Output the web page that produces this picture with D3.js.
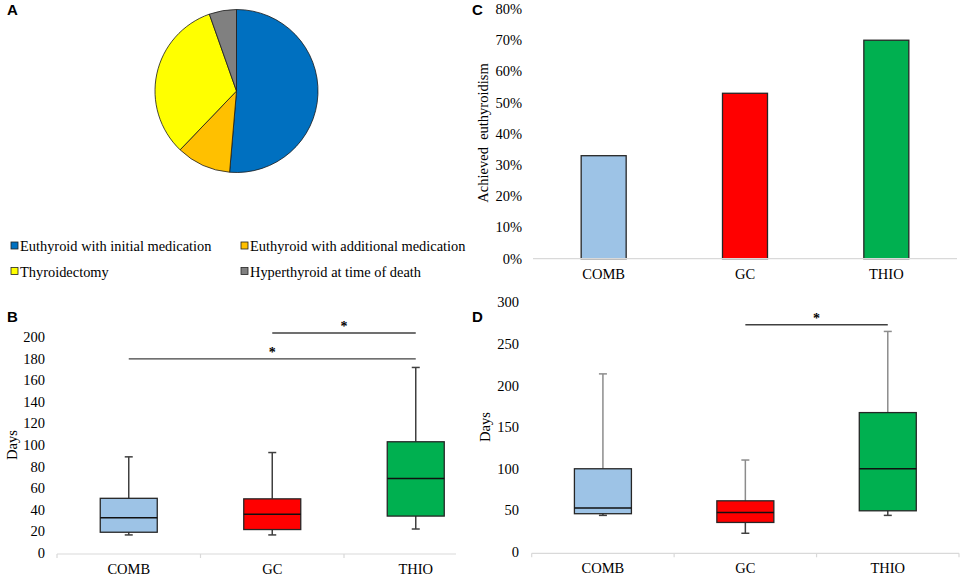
<!DOCTYPE html>
<html>
<head>
<meta charset="utf-8">
<script src="https://cdn.jsdelivr.net/npm/d3@7"></script>
<style>
  body { margin: 0; background: #fff; }
  svg { display: block; }
  text { font-family: "Liberation Serif", "Times New Roman", serif; fill: #000; }
  .panel { font-family: "Liberation Sans", Arial, sans-serif; font-weight: bold; font-size: 15px; }
</style>
</head>
<body>
<svg id="chart" width="964" height="578"></svg>
<script>
// panel A: outcome counts
const outcomeLabels = [
  "Euthyroid with initial medication",
  "Euthyroid with additional medication",
  "Thyroidectomy",
  "Hyperthyroid at time of death",
];
const outcomeCounts = [19, 4, 12, 2];
const outcomeColors = ["#0070C0", "#FFC000", "#FFFF00", "#808080"];

// shared groups
const groups = ["COMB", "GC", "THIO"];
const groupColors = ["#9DC3E6", "#FF0000", "#00B050"];

// panel C: share that achieved euthyroidism
const euthyroidShare = [0.33, 0.53, 0.70];
const shareTicks = [0, 0.1, 0.2, 0.3, 0.4, 0.5, 0.6, 0.7, 0.8];

// panel B: days, [min, q1, median, q3, max]
const daysB = [
  [16.5, 19, 32.5, 50.5, 89],
  [16.5, 21.5, 35.7, 50, 93],
  [22, 34, 69, 103, 172],
];
const ticksB = [0, 20, 40, 60, 80, 100, 120, 140, 160, 180, 200];
const sigB = [
  { from: "GC", to: "THIO", at: 204 },
  { from: "COMB", to: "THIO", at: 180 },
];

// panel D: days, [min, q1, median, q3, max]
const daysD = [
  [44, 46, 53, 100, 214],
  [22.5, 35.5, 47.5, 61.5, 110.5],
  [44, 49.5, 100, 167.5, 265],
];
const ticksD = [0, 50, 100, 150, 200, 250, 300];
const sigD = [{ from: "GC", to: "THIO", at: 273 }];

const svg = d3.select("#chart");

const panelLabel = (x, y, t) =>
  svg.append("text").attr("class", "panel").attr("x", x).attr("y", y).text(t);

// ---------- A: pie ----------
panelLabel(7, 15, "A");
const pie = d3.pie().sort(null)(outcomeCounts);
const arc = d3.arc().innerRadius(0).outerRadius(81.5);
svg.append("g")
  .attr("transform", "translate(236.5,91)")
  .selectAll("path")
  .data(pie)
  .join("path")
  .attr("d", arc)
  .attr("fill", (d, i) => outcomeColors[i])
  .attr("stroke", "#1a1a1a")
  .attr("stroke-width", 0.8);

const legend = svg.append("g")
  .selectAll("g")
  .data(outcomeLabels)
  .join("g")
  .attr("transform", (d, i) => `translate(${i % 2 ? 241 : 11},${i < 2 ? 246 : 271.5})`);
legend.append("rect")
  .attr("x", 0).attr("y", -4)
  .attr("width", 7).attr("height", 7)
  .attr("fill", (d, i) => outcomeColors[i])
  .attr("stroke", "#222").attr("stroke-width", 0.8);
legend.append("text")
  .attr("x", 9).attr("y", 5)
  .attr("font-size", 14.4)
  .text((d) => d);

// ---------- axis helpers ----------
// the base line can stop before the last band ends (panel B is cut short)
const drawBase = (x, y0, withTicks, end) => {
  const g = svg.append("g");
  const a = x.range()[0];
  const b = end ?? x.range()[1];
  g.append("line")
    .attr("x1", a).attr("x2", b).attr("y1", y0).attr("y2", y0)
    .attr("stroke", "#d9d9d9").attr("stroke-width", 1.2);
  if (withTicks) {
    const edges = x.domain().map((d) => x(d)).concat([x.range()[1]]).filter((e) => e <= b + 0.5);
    g.selectAll("line.tk").data(edges).join("line")
      .attr("class", "tk")
      .attr("x1", (d) => d).attr("x2", (d) => d)
      .attr("y1", y0).attr("y2", y0 + 4)
      .attr("stroke", "#d9d9d9").attr("stroke-width", 1.2);
  }
  g.selectAll("text").data(x.domain()).join("text")
    .attr("x", (d) => x(d) + x.bandwidth() / 2)
    .attr("y", y0 + 20)
    .attr("text-anchor", "middle")
    .attr("font-size", 14.5)
    .text((d) => d);
};

const drawYLabels = (y, ticks, xRight, fmt) => {
  svg.append("g").selectAll("text").data(ticks).join("text")
    .attr("x", xRight)
    .attr("y", (d) => y(d) + 5)
    .attr("text-anchor", "end")
    .attr("font-size", 14.5)
    .text(fmt);
};

const yTitle = (x, y, t) =>
  svg.append("text")
    .attr("transform", `translate(${x},${y}) rotate(-90)`)
    .attr("text-anchor", "middle")
    .attr("font-size", 14.5)
    .attr("xml:space", "preserve")
    .text(t);

const drawBoxes = (x, y, data, whiskerColor, w) => {
  const g = svg.append("g").selectAll("g").data(data).join("g")
    .attr("transform", (d, i) => `translate(${x(groups[i]) + x.bandwidth() / 2},0)`);
  g.append("line")
    .attr("y1", (d) => y(d[3])).attr("y2", (d) => y(d[4]))
    .attr("stroke", whiskerColor[0]).attr("stroke-width", 1.5);
  g.append("line")
    .attr("y1", (d) => y(d[0])).attr("y2", (d) => y(d[1]))
    .attr("stroke", whiskerColor[1]).attr("stroke-width", 1.5);
  g.append("line")
    .attr("x1", -4).attr("x2", 4)
    .attr("y1", (d) => y(d[4])).attr("y2", (d) => y(d[4]))
    .attr("stroke", whiskerColor[0]).attr("stroke-width", 1.5);
  g.append("line")
    .attr("x1", -4).attr("x2", 4)
    .attr("y1", (d) => y(d[0])).attr("y2", (d) => y(d[0]))
    .attr("stroke", whiskerColor[1]).attr("stroke-width", 1.5);
  g.append("rect")
    .attr("x", -w / 2).attr("width", w)
    .attr("y", (d) => y(d[3]))
    .attr("height", (d) => y(d[1]) - y(d[3]))
    .attr("fill", (d, i) => groupColors[i])
    .attr("stroke", "#262626").attr("stroke-width", 1.3);
  g.append("line")
    .attr("x1", -w / 2).attr("x2", w / 2)
    .attr("y1", (d) => y(d[2])).attr("y2", (d) => y(d[2]))
    .attr("stroke", "#111").attr("stroke-width", 1.5);
};

const drawSig = (x, y, sigs) => {
  const mid = (d) => x(d) + x.bandwidth() / 2;
  const g = svg.append("g").selectAll("g").data(sigs).join("g");
  g.append("line")
    .attr("x1", (d) => mid(d.from)).attr("x2", (d) => mid(d.to))
    .attr("y1", (d) => y(d.at)).attr("y2", (d) => y(d.at))
    .attr("stroke", "#404040").attr("stroke-width", 1.3);
  g.append("text")
    .attr("x", (d) => (mid(d.from) + mid(d.to)) / 2)
    .attr("y", (d) => y(d.at) - 2)
    .attr("text-anchor", "middle")
    .attr("font-size", 14)
    .attr("font-weight", "bold")
    .text("*");
};

// ---------- B: box plot ----------
panelLabel(7, 322, "B");
const xB = d3.scaleBand().domain(groups).range([57, 487.5]);
const yB = d3.scaleLinear().domain([0, 200]).range([552.7, 337.3]);
drawYLabels(yB, ticksB, 45, (d) => d);
yTitle(17, 445, "Days");
drawBase(xB, 554, true, 456);
drawBoxes(xB, yB, daysB, ["#404040", "#404040"], 57);
drawSig(xB, yB, sigB);

// ---------- C: bar chart ----------
panelLabel(472, 15, "C");
const xC = d3.scaleBand().domain(groups).range([533, 957]);
const yC = d3.scaleLinear().domain([0, 0.8]).range([258.7, 9]);
drawYLabels(yC, shareTicks, 522, d3.format(".0%"));
yTitle(488, 133, "Achieved  euthyroidism");
const barW = 45;
svg.append("g").selectAll("rect").data(euthyroidShare).join("rect")
  .attr("x", (d, i) => xC(groups[i]) + xC.bandwidth() / 2 - barW / 2)
  .attr("width", barW)
  .attr("y", (d) => yC(d))
  .attr("height", (d) => yC(0) - yC(d))
  .attr("fill", (d, i) => groupColors[i])
  .attr("stroke", "#262626").attr("stroke-width", 1.3);
drawBase(xC, 258.7, false);

// ---------- D: box plot ----------
panelLabel(472, 322, "D");
const xD = d3.scaleBand().domain(groups).range([531.7, 959]);
const yD = d3.scaleLinear().domain([0, 300]).range([552, 302.3]);
drawYLabels(yD, ticksD, 519, (d) => d);
yTitle(490, 427, "Days");
drawBase(xD, 553.3, true);
drawBoxes(xD, yD, daysD, ["#8c8c8c", "#404040"], 57);
drawSig(xD, yD, sigD);
</script>
</body>
</html>
